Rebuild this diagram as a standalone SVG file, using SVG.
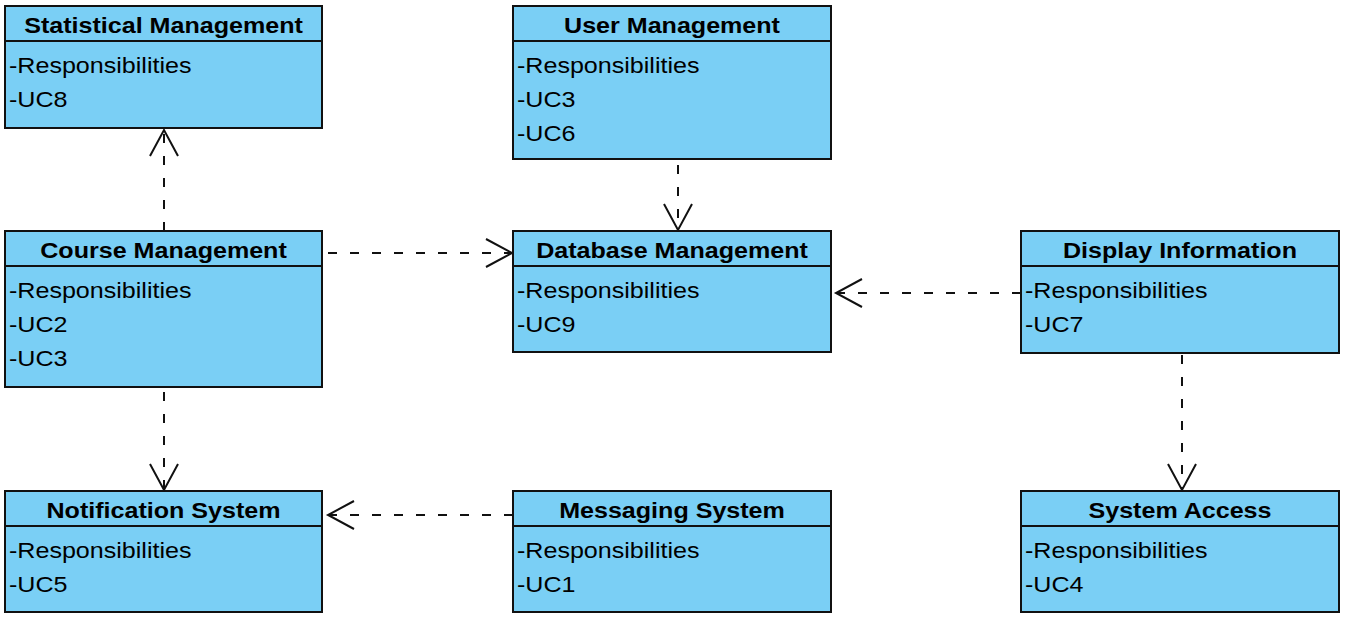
<svg xmlns="http://www.w3.org/2000/svg" width="1348" height="621" viewBox="0 0 1348 621">
<style>
.box{fill:#7ACFF5;stroke:#111;stroke-width:2}
.sep{stroke:#111;stroke-width:2}
.t{font-family:"Liberation Sans",Arial,sans-serif;font-size:22px;font-weight:bold;fill:#000;text-anchor:middle}
.b{font-family:"Liberation Sans",Arial,sans-serif;font-size:22px;fill:#000}
.dep{fill:none;stroke:#111;stroke-width:2;stroke-dasharray:9 13;marker-end:url(#open)}
</style>
<defs>
<marker id="open" viewBox="0 0 30 30" markerWidth="30" markerHeight="30" refX="27" refY="15" orient="auto" markerUnits="userSpaceOnUse">
<path d="M1,1 L27,15 L1,29" fill="none" stroke="#111" stroke-width="2"/>
</marker>
</defs>
<rect width="1348" height="621" fill="#fff"/>

<g id="statistical-management">
<rect class="box" x="5" y="6" width="317" height="122"/>
<line class="sep" x1="5" y1="41" x2="322" y2="41"/>
<text class="t" transform="matrix(1.14 0 0 1 163.5 33)">Statistical Management</text>
<text class="b" transform="matrix(1.14 0 0 1 9 73)">-Responsibilities</text>
<text class="b" transform="matrix(1.14 0 0 1 9 107)">-UC8</text>
</g>

<g id="user-management">
<rect class="box" x="513" y="6" width="318" height="153"/>
<line class="sep" x1="513" y1="41" x2="831" y2="41"/>
<text class="t" transform="matrix(1.14 0 0 1 672 33)">User Management</text>
<text class="b" transform="matrix(1.14 0 0 1 517 73)">-Responsibilities</text>
<text class="b" transform="matrix(1.14 0 0 1 517 107)">-UC3</text>
<text class="b" transform="matrix(1.14 0 0 1 517 141)">-UC6</text>
</g>

<g id="course-management">
<rect class="box" x="5" y="231" width="317" height="156"/>
<line class="sep" x1="5" y1="266" x2="322" y2="266"/>
<text class="t" transform="matrix(1.14 0 0 1 163.5 258)">Course Management</text>
<text class="b" transform="matrix(1.14 0 0 1 9 298)">-Responsibilities</text>
<text class="b" transform="matrix(1.14 0 0 1 9 332)">-UC2</text>
<text class="b" transform="matrix(1.14 0 0 1 9 366)">-UC3</text>
</g>

<g id="database-management">
<rect class="box" x="513" y="231" width="318" height="121"/>
<line class="sep" x1="513" y1="266" x2="831" y2="266"/>
<text class="t" transform="matrix(1.14 0 0 1 672 258)">Database Management</text>
<text class="b" transform="matrix(1.14 0 0 1 517 298)">-Responsibilities</text>
<text class="b" transform="matrix(1.14 0 0 1 517 332)">-UC9</text>
</g>

<g id="display-information">
<rect class="box" x="1021" y="231" width="318" height="122"/>
<line class="sep" x1="1021" y1="266" x2="1339" y2="266"/>
<text class="t" transform="matrix(1.14 0 0 1 1180 258)">Display Information</text>
<text class="b" transform="matrix(1.14 0 0 1 1025 298)">-Responsibilities</text>
<text class="b" transform="matrix(1.14 0 0 1 1025 332)">-UC7</text>
</g>

<g id="notification-system">
<rect class="box" x="5" y="491" width="317" height="121"/>
<line class="sep" x1="5" y1="526" x2="322" y2="526"/>
<text class="t" transform="matrix(1.14 0 0 1 163.5 518)">Notification System</text>
<text class="b" transform="matrix(1.14 0 0 1 9 558)">-Responsibilities</text>
<text class="b" transform="matrix(1.14 0 0 1 9 592)">-UC5</text>
</g>

<g id="messaging-system">
<rect class="box" x="513" y="491" width="318" height="121"/>
<line class="sep" x1="513" y1="526" x2="831" y2="526"/>
<text class="t" transform="matrix(1.14 0 0 1 672 518)">Messaging System</text>
<text class="b" transform="matrix(1.14 0 0 1 517 558)">-Responsibilities</text>
<text class="b" transform="matrix(1.14 0 0 1 517 592)">-UC1</text>
</g>

<g id="system-access">
<rect class="box" x="1021" y="491" width="318" height="121"/>
<line class="sep" x1="1021" y1="526" x2="1339" y2="526"/>
<text class="t" transform="matrix(1.14 0 0 1 1180 518)">System Access</text>
<text class="b" transform="matrix(1.14 0 0 1 1025 558)">-Responsibilities</text>
<text class="b" transform="matrix(1.14 0 0 1 1025 592)">-UC4</text>
</g>

<g id="connectors">
<path class="dep" d="M164,231 L164,130"/>
<path class="dep" d="M328,253 L512,253"/>
<path class="dep" d="M678,165 L678,230"/>
<path class="dep" d="M1021,293 L836,293"/>
<path class="dep" d="M164,392 L164,490"/>
<path class="dep" d="M513,515 L328,515"/>
<path class="dep" d="M1182,355 L1182,490"/>
</g>
</svg>
